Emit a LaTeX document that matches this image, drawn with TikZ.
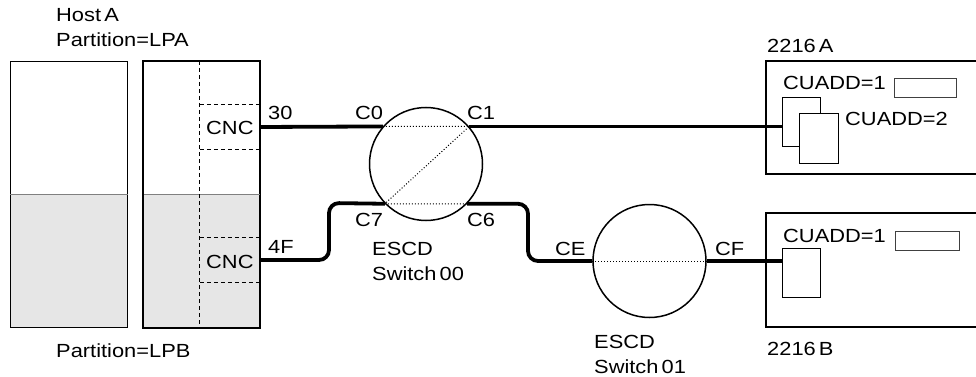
\documentclass[tikz,border=0pt]{standalone}
\usepackage{fontspec}
\setmainfont{Liberation Sans}[FakeStretch=1.15]
\definecolor{lpgray}{HTML}{E6E6E6}
\begin{document}
\begin{tikzpicture}[x=1pt,y=-1pt,
    every node/.style={inner sep=0pt, font=\fontsize{19}{23}\selectfont},
    txt/.style={anchor=base west},
    box/.style={draw, line width=1.4pt},
    dashline/.style={dash pattern=on 4pt off 3pt, line width=1pt},
    chord/.style={dotted, line width=1pt},
    link/.style={line width=3.8pt, rounded corners=10pt},
    escd/.style={draw, circle, line width=1.5pt, minimum size=113pt}]
  \useasboundingbox (0,0) rectangle (976,377);

  % host A: partitions and channel side
  \node[box, anchor=north west, minimum width=117pt, minimum height=266pt,
    path picture={\fill[lpgray] (path picture bounding box.west)
      rectangle (path picture bounding box.south east);}] (lpar) at (10,61) {};
  \draw[gray, line width=1.1pt] (lpar.west) -- (lpar.east);
  \node[box, anchor=north west, minimum width=116pt, minimum height=266pt,
    path picture={\fill[lpgray] (path picture bounding box.west)
      rectangle (path picture bounding box.south east);}] (chpid) at (143,61) {};
  \draw[gray, line width=1.1pt] (chpid.west) -- (chpid.east);
  \draw[box] (chpid.north west) rectangle (chpid.south east);

  \node[minimum width=59pt, minimum height=44pt] (cnc1) at (229.5,127) {};
  \node[minimum width=59pt, minimum height=44pt] (cnc2) at (229.5,260) {};
  \node[txt] (cnc1txt) at (206,135) {CNC};
  \node[txt] (cnc2txt) at (206,268) {CNC};
  \foreach \c in {cnc1,cnc2}
    \draw[dashline] (\c.north west) -- (\c.north east) (\c.south west) -- (\c.south east);
  \draw[dashline] (cnc1.west |- chpid.north) -- (cnc1.west |- chpid.south);

  \node[txt] (hostname) at (56,22) {Host\,A};
  \node[txt] (lpa) at (56,47) {Partition=LPA};
  \node[txt] (lpb) at (56,357) {Partition=LPB};
  \node[txt] (p30) at (268,119) {30};
  \node[txt] (p4f) at (268,253) {4F};

  % the two directors
  \node[escd] (sw0) at (426,164) {};
  \draw[chord] (sw0.139) -- (sw0.41) -- (sw0.224) -- (sw0.316);
  \node[txt] (c0) at (355,119) {C0};
  \node[txt] (c1) at (467,119) {C1};
  \node[txt] (c7) at (355,226) {C7};
  \node[txt] (c6) at (467,226) {C6};
  \node[txt] (sw0a) at (372,255) {ESCD};
  \node[txt] (sw0b) at (372,280) {Switch\,00};

  \node[escd] (sw1) at (649.5,261) {};
  \draw[chord] (sw1.west) -- (sw1.east);
  \node[txt] (ce) at (555,255) {CE};
  \node[txt] (cf) at (715,255) {CF};
  \node[txt] (sw1a) at (594,348) {ESCD};
  \node[txt] (sw1b) at (594,373) {Switch\,01};

  % control units (right side runs off the page)
  \coordinate (cua) at (766,61);
  \coordinate (cub) at (766,213);
  \draw[box] (990,61) -| (766,174) -- (990,174);
  \draw[box] (990,213) -| (766,327) -- (990,327);
  \node[txt] (cualbl) at (767,53) {2216\,A};
  \node[txt] (cublbl) at (767,355) {2216\,B};

  \node[box, line width=1.1pt, anchor=north west, minimum width=38pt, minimum height=49pt] (cua1) at (782,97) {};
  \node[box, line width=1.1pt, fill=white, anchor=north west, minimum width=39pt, minimum height=50pt] (cua2) at (799,113) {};
  \node[box, line width=1.1pt, draw=black!75, anchor=north west, minimum width=62pt, minimum height=19pt] (cuaslot) at (894,78) {};
  \node[txt] (cuadd1a) at (783,90) {CUADD=1};
  \node[txt] (cuadd2) at (845,125) {CUADD=2};

  \node[box, line width=1.1pt, anchor=north west, minimum width=38pt, minimum height=49pt] (cub1) at (782,248) {};
  \node[box, line width=1.1pt, draw=black!75, anchor=north west, minimum width=64pt, minimum height=19pt] (cubslot) at (895,231) {};
  \node[txt] (cuadd1b) at (783,242) {CUADD=1};

  % fibre links
  \coordinate (bendA) at (329,203);
  \coordinate (bendB) at (528,261);
  \draw[link] (cnc1.east) -- (sw0.139);
  \draw[link] (sw0.41) -- (sw0.41 -| cua1.west);
  \draw[link] (cnc2.east) -| (bendA) -- (sw0.224);
  \draw[link] (sw0.316) -| (bendB) -- (sw1.west);
  \draw[link] (sw1.east) -- (sw1.east -| cub1.west);
\end{tikzpicture}
\end{document}
